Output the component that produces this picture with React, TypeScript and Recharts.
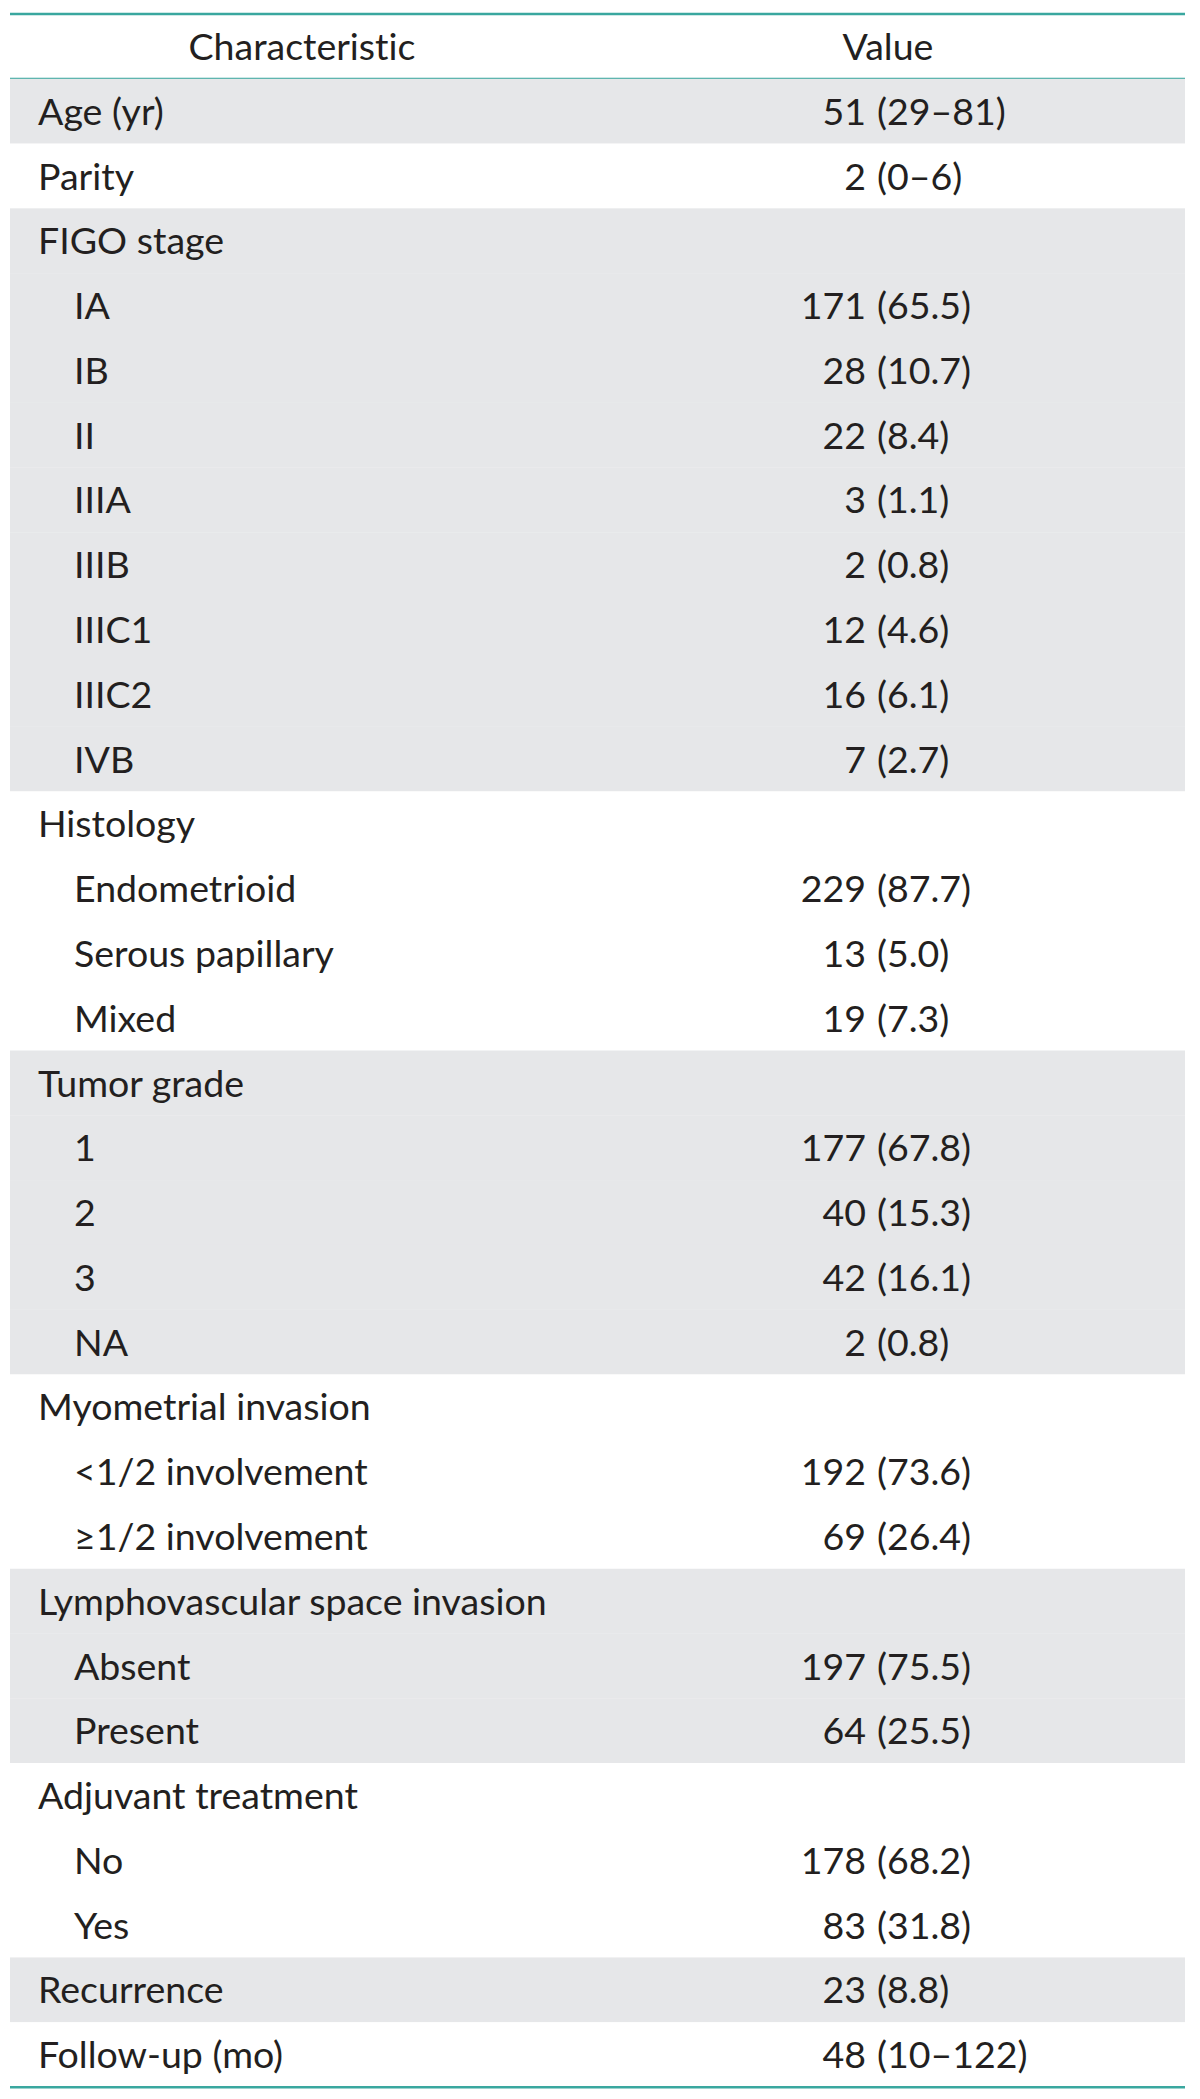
import { BarChart, Bar, XAxis, YAxis } from "recharts";

// table contents, one entry per body row
const headers = ["Characteristic", "Value"];

const labels = [
  "Age (yr)",
  "Parity",
  "FIGO stage",
  "IA",
  "IB",
  "II",
  "IIIA",
  "IIIB",
  "IIIC1",
  "IIIC2",
  "IVB",
  "Histology",
  "Endometrioid",
  "Serous papillary",
  "Mixed",
  "Tumor grade",
  "1",
  "2",
  "3",
  "NA",
  "Myometrial invasion",
  "<1/2 involvement",
  "≥1/2 involvement",
  "Lymphovascular space invasion",
  "Absent",
  "Present",
  "Adjuvant treatment",
  "No",
  "Yes",
  "Recurrence",
  "Follow-up (mo)",
];

const counts = [
  "51", "2", "",
  "171", "28", "22", "3", "2", "12", "16", "7",
  "", "229", "13", "19",
  "", "177", "40", "42", "2",
  "", "192", "69",
  "", "197", "64",
  "", "178", "83",
  "23", "48",
];

const pcts = [
  "(29–81)", "(0–6)", "",
  "(65.5)", "(10.7)", "(8.4)", "(1.1)", "(0.8)", "(4.6)", "(6.1)", "(2.7)",
  "", "(87.7)", "(5.0)", "(7.3)",
  "", "(67.8)", "(15.3)", "(16.1)", "(0.8)",
  "", "(73.6)", "(26.4)",
  "", "(75.5)", "(25.5)",
  "", "(68.2)", "(31.8)",
  "(8.8)", "(10–122)",
];

// 1 = sub-item (indented)
const levels = [
  0, 0, 0,
  1, 1, 1, 1, 1, 1, 1, 1,
  0, 1, 1, 1,
  0, 1, 1, 1, 1,
  0, 1, 1,
  0, 1, 1,
  0, 1, 1,
  0, 0,
];

// section number, even sections get the grey band
const sections = [
  0, 1, 2,
  2, 2, 2, 2, 2, 2, 2, 2,
  3, 3, 3, 3,
  4, 4, 4, 4, 4,
  5, 5, 5,
  6, 6, 6,
  7, 7, 7,
  8, 9,
];

const TEAL = "#3aa79f";
const GREY = "#e6e7e9";
const INK = "#231f20";
const FONT = "Lato, 'Open Sans', sans-serif";
const FS = 37.5;

const data = [
  { key: "h", v: 1, header: true, label: headers[0], count: "", pct: "", level: 0, shaded: false, last: false },
  ...labels.map((label, i) => ({
    key: "r" + i,
    v: 1,
    header: false,
    label,
    count: counts[i],
    pct: pcts[i],
    level: levels[i],
    shaded: sections[i] % 2 === 0,
    last: i === labels.length - 1,
  })),
];

function RowShape(props: any) {
  const { x, y, width, height, payload } = props;
  const base = y + height / 2 + 13.5;
  const txt = {
    fontFamily: FONT,
    fontSize: FS,
    fill: INK,
    style: { fontVariantLigatures: "none" as const, fontFeatureSettings: "'liga' 0" },
  };
  if (payload.header) {
    return (
      <g>
        <line x1={x} x2={x + width} y1={y} y2={y} stroke={TEAL} strokeWidth={2.6} />
        <line x1={x} x2={x + width} y1={y + height} y2={y + height} stroke={TEAL} strokeWidth={2.6} />
        <text x={302} y={base} textAnchor="middle" {...txt}>{headers[0]}</text>
        <text x={888} y={base} textAnchor="middle" {...txt}>{headers[1]}</text>
      </g>
    );
  }
  return (
    <g>
      <rect x={x} y={y} width={width} height={height} fill={payload.shaded ? GREY : "#ffffff"} />
      {payload.last && (
        <line x1={x} x2={x + width} y1={y + height} y2={y + height} stroke={TEAL} strokeWidth={2.6} />
      )}
      <text x={x + (payload.level ? 64 : 28)} y={base} {...txt}>{payload.label}</text>
      {payload.count && (
        <text x={866} y={base} textAnchor="end" {...txt}>{payload.count}</text>
      )}
      {payload.pct && (
        <text x={877} y={base} textAnchor="start" {...txt}>{payload.pct}</text>
      )}
    </g>
  );
}

export default function App() {
  return (
    <div style={{ position: "absolute", left: 0, top: 0, width: 1200, height: 2099, background: "#ffffff" }}>
      <BarChart
        width={1200}
        height={2099}
        data={data}
        layout="vertical"
        margin={{ top: 14, right: 15, bottom: 12, left: 10 }}
        barCategoryGap={0}
        barGap={0}
      >
        <XAxis type="number" domain={[0, 1]} hide height={0} />
        <YAxis type="category" dataKey="key" hide width={0} />
        <Bar dataKey="v" isAnimationActive={false} shape={RowShape} />
      </BarChart>
    </div>
  );
}
